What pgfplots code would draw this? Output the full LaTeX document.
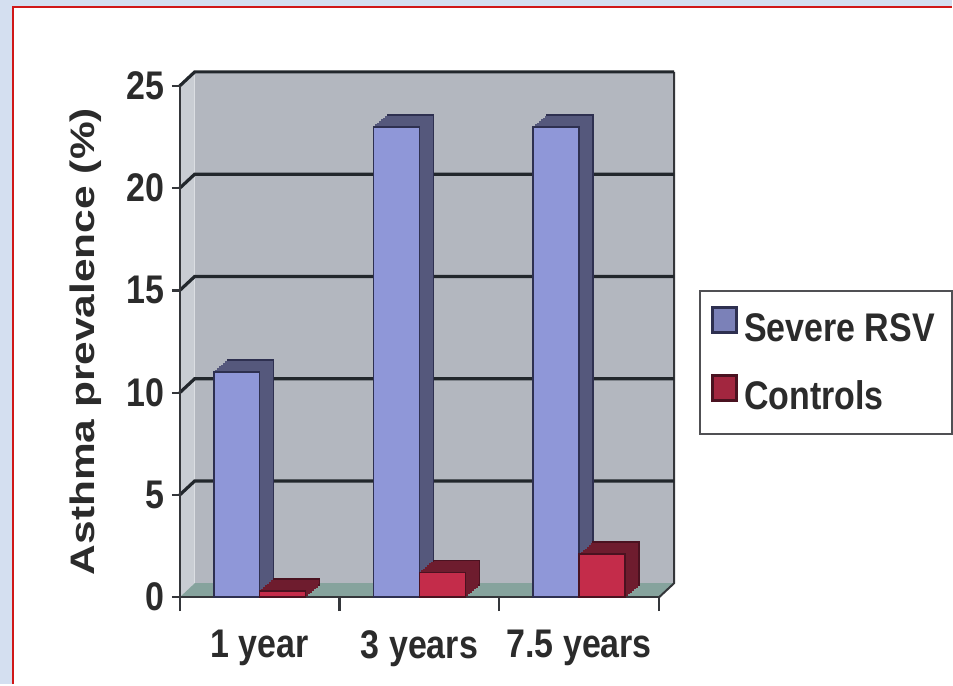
\documentclass[border=0pt]{standalone}
\usepackage{fontspec}
\setmainfont{Liberation Sans}
\newfontfamily\narrowsans{Liberation Sans}[FakeStretch=0.85]
\newfontfamily\widesans{Liberation Sans}[FakeStretch=1.25]
\usepackage{pgfplots}
\usepackage{pgfplotstable}
\pgfplotsset{compat=1.18}

\definecolor{pagebg}{HTML}{D4DFF0}
\definecolor{framered}{HTML}{D01818}
\definecolor{wallgray}{HTML}{B3B7BF}
\definecolor{sidegray}{HTML}{C9CDD3}
\definecolor{floorgreen}{HTML}{86A39D}
\definecolor{gridink}{HTML}{22272C}
\definecolor{axisink}{HTML}{34363A}
\definecolor{txt}{HTML}{2B2B2B}
\definecolor{legendink}{HTML}{505054}
\definecolor{rsvfront}{HTML}{8F97D8}
\definecolor{rsvside}{HTML}{55587C}
\definecolor{rsvedge}{HTML}{2E3050}
\definecolor{ctlfront}{HTML}{C42C4A}
\definecolor{ctlside}{HTML}{6E1C2E}
\definecolor{ctledge}{HTML}{4A1220}

% asthma prevalence (%) by age
\pgfplotstableread{
cat rsv ctl
0 11 0.3
1 23 1.2
2 23 2.1
}\prevalence

% extruded look for the columns: shifted copies behind the front face
\makeatletter
\tikzset{no preactions/.code={\let\tikz@preactions\pgfutil@empty}}
\makeatother
\tikzset{
  depth/.style 2 args={
    preaction={fill=#1, draw=#2, line width=0.8pt, transform canvas={shift={(7pt,6pt)}}},
    preaction={fill=#1, draw=#1, line width=0.6pt, transform canvas={shift={(6pt,5.14pt)}}},
    preaction={fill=#1, draw=#1, line width=0.6pt, transform canvas={shift={(5pt,4.29pt)}}},
    preaction={fill=#1, draw=#1, line width=0.6pt, transform canvas={shift={(4pt,3.43pt)}}},
    preaction={fill=#1, draw=#1, line width=0.6pt, transform canvas={shift={(3pt,2.57pt)}}},
    preaction={fill=#1, draw=#1, line width=0.6pt, transform canvas={shift={(2pt,1.71pt)}}},
    preaction={fill=#1, draw=#1, line width=0.6pt, transform canvas={shift={(1pt,0.86pt)}}},
  },
}

\begin{document}
\begin{tikzpicture}[x=1pt, y=1pt]
\fill[pagebg] (0,0) rectangle (476.5,342.5);
\fill[white] (6.5,0) rectangle (476.5,339);
\draw[framered, line width=1.1pt] (6.5,0) -- (6.5,339) -- (476.5,339);

% back wall, side wall and floor of the chart box (axis spans x 90..330, y 43.5..299.5)
\fill[wallgray] (97.5,50.5) rectangle (337.5,306.5);
\fill[sidegray] (90,43.5) -- (90,299.5) -- (97.5,306.5) -- (97.5,50.5) -- cycle;
\fill[floorgreen] (90,43.5) -- (330,43.5) -- (337.5,50.5) -- (97.5,50.5) -- cycle;
\draw[axisink, line width=1pt] (330,43.5) -- (337.5,50.5) -- (337.5,306.5);
% grid lines on the back wall, every 5 units of 10.24pt
\foreach \gy in {94.7,145.9,197.1,248.3,299.5}{
  \draw[gridink, line width=1.6pt] (90,\gy) -- (97.5,\gy+7) -- (337.5,\gy+7);
}

\begin{axis}[
  at={(90pt,43.5pt)}, anchor=south west,
  scale only axis, width=240pt, height=256pt,
  xmin=-0.5, xmax=2.5, ymin=0, ymax=25,
  ybar=0pt, bar width=23pt,
  axis x line*=bottom, axis y line*=left,
  axis line style={draw=axisink, line width=1.1pt},
  tick align=outside,
  xtick={0,1,2},
  xticklabels={1 year,3 years,7.5 years},
  xtick style={draw=none},
  extra x ticks={-0.5,0.5,1.5,2.5},
  extra x tick labels={,,,},
  extra x tick style={xtick style={draw=axisink, line width=1.1pt}, major tick length=7pt},
  ytick={0,5,10,15,20,25},
  ytick style={draw=axisink, line width=1.1pt},
  major tick length=4pt,
  /pgf/number format/assume math mode=true,
  ticklabel style={font=\narrowsans\bfseries\fontsize{20}{22}\selectfont, text=txt},
  xticklabel style={yshift=-9pt},
  ylabel={Asthma prevalence (\%)},
  ylabel style={font=\widesans\bfseries\fontsize{17}{20}\selectfont, text=txt,
    at={(axis description cs:-0.196,0.5)}, rotate=0, anchor=center},
  legend style={at={(axis description cs:1.0833,0.6016)}, anchor=north west,
    draw=legendink, line width=1.2pt, fill=white,
    inner xsep=5.5pt, inner ysep=7.75pt, row sep=12pt,
    font=\narrowsans\bfseries\fontsize{20}{22}\selectfont, text=txt,
    nodes={inner sep=3pt}},
  legend cell align=left,
]
\addplot[fill=rsvfront, draw=rsvedge, line width=0.8pt, depth={rsvside}{rsvedge},
  legend image code/.code={\draw[no preactions, fill=rsvfront!65!rsvside, draw=rsvedge, line width=1.5pt] (0pt,-2pt) rectangle (12pt,10.5pt);}]
  table[x=cat, y=rsv] {\prevalence};
\addlegendentry{Severe RSV}
\addplot[fill=ctlfront, draw=ctledge, line width=0.8pt, depth={ctlside}{ctledge},
  legend image code/.code={\draw[no preactions, fill=ctlfront!60!ctlside, draw=ctledge, line width=1.5pt] (0pt,-2pt) rectangle (12pt,10.5pt);}]
  table[x=cat, y=ctl] {\prevalence};
\addlegendentry{Controls}
\end{axis}
\end{tikzpicture}
\end{document}
